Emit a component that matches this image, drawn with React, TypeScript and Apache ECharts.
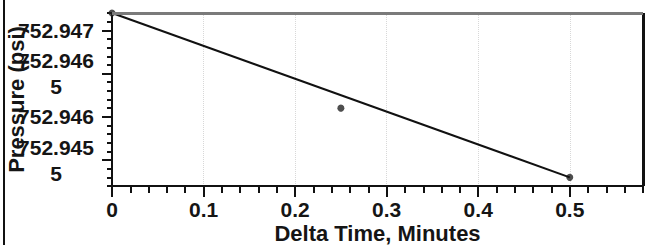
import React, { useEffect, useRef } from "react";
import * as echarts from "echarts";

// ---- data ----
const xMin = 0;
const xMax = 0.58;
const xMajorTicks = [0, 0.1, 0.2, 0.3, 0.4, 0.5];
const yMin = 752.9452;
const yMax = 752.9472;
const yMajorTicks = [752.9455, 752.946, 752.9465, 752.947];
const pointTimes = [0, 0.25, 0.5];
const pointPressures = [752.9472, 752.9461, 752.9453];
const fitTimes = [0, 0.5];
const fitPressures = [752.9472, 752.9453];

const FONT = "'Liberation Sans', Arial, sans-serif";

function yLabel(v: number): string {
  let s = v.toFixed(4).replace(/0+$/, "").replace(/\.$/, "");
  if (s.length > 7) s = s.slice(0, 7) + "\n" + s.slice(7);
  return s;
}

export default function App() {
  const ref = useRef<HTMLDivElement>(null);
  useEffect(() => {
    if (!ref.current) return;
    const chart = echarts.init(ref.current, undefined, { renderer: "svg" });
    const labelStyle = {
      fontFamily: FONT,
      fontWeight: "bold" as const,
      fontSize: 21,
      color: "#151515",
    };
    chart.setOption({
      animation: false,
      backgroundColor: "#ffffff",
      grid: {
        left: 112,
        top: 13,
        right: 9,
        bottom: 59,
        outerBoundsMode: "none",
        containLabel: false,
      },
      xAxis: [
        {
          type: "value",
          min: xMin,
          max: xMax,
          interval: 0.02,
          position: "bottom",
          axisLine: { show: true, onZero: false, lineStyle: { color: "#111", width: 2 } },
          axisTick: { show: true, length: 7, lineStyle: { color: "#111", width: 2 } },
          axisLabel: { show: false },
          splitLine: { show: false },
        },
        {
          type: "value",
          min: xMin,
          max: xMax,
          interval: 0.1,
          position: "bottom",
          axisLine: { show: false, onZero: false },
          axisTick: {
            show: true,
            customValues: xMajorTicks,
            length: 11,
            lineStyle: { color: "#111", width: 2 },
          },
          axisLabel: {
            show: true,
            customValues: xMajorTicks,
            margin: 14,
            lineHeight: 18,
            ...labelStyle,
          },
          splitLine: {
            show: true,
            lineStyle: { color: "#d8d8d8", type: "dotted", width: 1 },
          },
          name: "Delta Time, Minutes",
          nameLocation: "middle",
          nameGap: 37,
          nameMoveOverlap: false,
          nameTextStyle: { ...labelStyle, fontSize: 22, lineHeight: 20 },
        },
      ],
      yAxis: [
        {
          type: "value",
          min: yMin,
          max: yMax,
          interval: 0.0001,
          position: "left",
          axisLine: { show: true, onZero: false, lineStyle: { color: "#111", width: 2 } },
          axisTick: { show: true, length: 5, lineStyle: { color: "#111", width: 2 } },
          axisLabel: { show: false },
          splitLine: { show: false },
        },
        {
          type: "value",
          min: yMin,
          max: yMax,
          position: "left",
          axisLine: { show: false, onZero: false },
          axisTick: {
            show: true,
            customValues: yMajorTicks,
            length: 10,
            lineStyle: { color: "#111", width: 2 },
          },
          axisLabel: {
            show: true,
            customValues: yMajorTicks,
            formatter: (v: number) => yLabel(v),
            align: "center",
            margin: 56,
            lineHeight: 26,
            ...labelStyle,
          },
          splitLine: { show: false },
          name: "Pressure (psi)",
          nameLocation: "middle",
          nameRotate: 90,
          nameGap: 85,
          nameMoveOverlap: false,
          nameTextStyle: { ...labelStyle, fontSize: 22 },
        },
      ],
      series: [
        {
          type: "line",
          xAxisIndex: 0,
          yAxisIndex: 0,
          data: fitTimes.map((t, i) => [t, fitPressures[i]]),
          symbol: "none",
          lineStyle: { color: "#111", width: 2 },
          clip: true,
        },
        {
          type: "scatter",
          xAxisIndex: 0,
          yAxisIndex: 0,
          data: pointTimes.map((t, i) => [t, pointPressures[i]]),
          symbol: "circle",
          symbolSize: 7,
          itemStyle: { color: "#222" },
          clip: true,
        },
      ],
      graphic: [
        {
          type: "line",
          shape: { x1: 4, y1: 0, x2: 4, y2: 245 },
          style: { stroke: "#111", lineWidth: 2 },
        },
        {
          type: "rect",
          left: 642,
          top: 13,
          shape: { width: 3, height: 173 },
          style: { fill: "#111" },
          z: 10,
        },
        {
          type: "rect",
          left: 112,
          top: 12,
          shape: { width: 531, height: 3 },
          style: { fill: "#7a7a7a" },
          z: 10,
        },
      ],
    });
    return () => chart.dispose();
  }, []);
  return (
    <div
      ref={ref}
      style={{ position: "fixed", left: 0, top: 0, width: 652, height: 245, background: "#fff" }}
    />
  );
}
